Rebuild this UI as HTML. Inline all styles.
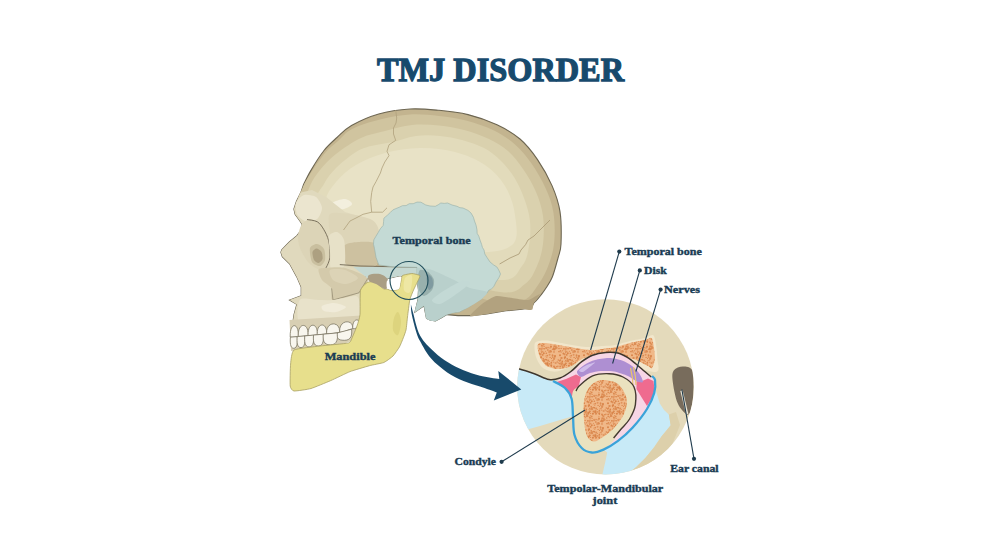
<!DOCTYPE html>
<html><head><meta charset="utf-8">
<style>
html,body{margin:0;padding:0;background:#fff;width:1000px;height:552px;overflow:hidden}
svg{display:block}
text{font-family:"Liberation Serif",serif;font-weight:bold}
</style></head>
<body>
<svg width="1000" height="552" viewBox="0 0 1000 552">
<path d="M292.5,325.0 L294.0,314.5 L296.8,304.4 L289.6,300.0 L301.2,295.7 L301.2,287.0 L296.8,276.9 L289.6,263.8 L282.3,256.6 L280.9,252.2 L281.8,249.7 L289.4,242.0 L297.0,235.7 L300.8,230.6 L302.1,224.3 L299.6,220.5 L295.1,214.2 L293.9,209.0 L296.4,201.5 L300.8,192.6 L303.4,185.0 L303.4,185.0 C304.6,182.6 307.4,176.3 310.8,170.6 C314.2,164.8 319.6,156.0 324.0,150.5 C328.4,145.0 332.4,141.7 337.0,137.5 C341.6,133.3 344.6,129.4 351.5,125.5 C358.4,121.6 368.9,116.8 378.7,114.0 C388.4,111.2 399.9,109.6 410.0,109.0 C420.1,108.4 429.3,109.4 439.0,110.3 C448.7,111.2 458.3,112.2 468.0,114.6 C477.7,117.0 488.3,120.7 497.0,124.8 C505.7,128.9 513.2,133.2 520.0,139.0 C526.8,144.8 532.2,151.8 537.5,159.6 C542.8,167.4 548.2,176.9 552.0,185.6 C555.8,194.3 558.5,202.0 560.0,211.7 C561.5,221.4 561.3,236.3 561.0,244.0 C560.7,251.7 559.5,252.5 558.0,258.0 C556.5,263.5 554.3,272.0 552.3,277.0 C550.3,282.0 547.9,285.0 546.0,288.0 C544.1,291.0 542.7,292.8 541.0,295.0 C539.3,297.2 537.2,299.7 536.0,301.0 C534.8,302.3 534.2,302.7 533.8,303.0 L531.6,307.6 L522.0,309.2 L506.0,310.8 L486.8,314.0 L470.8,315.6 L458.0,315.6 L446.8,314.6 L441.0,318.0 L435.4,321.0 L430.0,320.0 L426.5,318.4 L424.0,305.7 L415.0,312.0 L418.0,300.0 L418.5,290.0 L417.0,278.0 L400.0,276.0 L386.0,279.0 L375.0,274.0 L365.0,276.0 L360.0,290.0 L360.0,318.5Z" fill="#c3b48f" stroke="#6d6652" stroke-width="1.1"/>
<path d="M299.0,205.0 C296.1,198.0 300.4,193.5 302.5,188.0 C304.6,182.5 307.7,177.9 311.5,172.0 C315.3,166.1 321.1,157.7 325.5,152.5 C329.9,147.3 333.6,144.9 338.0,141.0 C342.4,137.1 345.0,132.6 352.0,129.0 C359.0,125.4 370.3,121.9 380.0,119.5 C389.7,117.1 400.2,115.1 410.0,114.5 C419.8,113.9 429.7,115.0 439.0,116.0 C448.3,117.0 456.8,118.1 466.0,120.5 C475.2,122.9 485.8,126.5 494.0,130.5 C502.2,134.5 508.8,139.0 515.0,144.5 C521.2,150.0 526.4,156.2 531.5,163.5 C536.6,170.8 541.8,179.8 545.5,188.0 C549.2,196.2 552.1,203.7 553.5,213.0 C554.9,222.3 555.1,234.7 554.0,244.0 C552.9,253.3 550.0,261.7 547.0,269.0 C544.0,276.3 539.8,282.8 536.0,288.0 C532.2,293.2 530.0,297.5 524.0,300.0 C518.0,302.5 507.3,303.3 500.0,303.0 C492.7,302.7 493.3,301.8 480.0,298.0 C466.7,294.2 441.7,288.0 420.0,280.0 C398.3,272.0 366.7,258.3 350.0,250.0 C333.3,241.7 328.5,237.5 320.0,230.0 C311.5,222.5 301.9,212.0 299.0,205.0Z" fill="#d0c49f"/>
<path d="M306.0,205.0 C303.5,198.5 307.7,191.8 310.0,186.0 C312.3,180.2 315.7,175.3 320.0,170.0 C324.3,164.7 329.2,159.3 336.0,154.0 C342.8,148.7 352.8,141.8 361.0,138.0 C369.2,134.2 376.5,133.2 385.0,131.0 C393.5,128.8 403.0,125.9 412.0,125.0 C421.0,124.1 430.3,124.7 439.0,125.5 C447.7,126.3 455.7,127.8 464.0,130.0 C472.3,132.2 481.7,135.5 489.0,139.0 C496.3,142.5 502.3,146.0 508.0,151.0 C513.7,156.0 518.3,162.2 523.0,169.0 C527.7,175.8 532.7,184.2 536.0,192.0 C539.3,199.8 541.8,207.3 543.0,216.0 C544.2,224.7 544.0,235.7 543.0,244.0 C542.0,252.3 540.0,259.3 537.0,266.0 C534.0,272.7 531.2,279.7 525.0,284.0 C518.8,288.3 517.5,294.3 500.0,292.0 C482.5,289.7 445.0,278.7 420.0,270.0 C395.0,261.3 365.8,247.5 350.0,240.0 C334.2,232.5 332.3,230.8 325.0,225.0 C317.7,219.2 308.5,211.5 306.0,205.0Z" fill="#dad1ae"/>
<path d="M318.0,203.0 C313.7,195.0 321.0,189.8 324.0,184.0 C327.0,178.2 330.7,173.3 336.0,168.0 C341.3,162.7 350.2,155.7 356.0,152.0 C361.8,148.3 364.8,147.7 371.0,146.0 C377.2,144.3 385.5,143.7 393.0,142.0 C400.5,140.3 408.2,137.0 416.0,136.0 C423.8,135.0 432.3,135.3 440.0,136.0 C447.7,136.7 454.7,138.0 462.0,140.0 C469.3,142.0 477.7,144.7 484.0,148.0 C490.3,151.3 495.0,155.2 500.0,160.0 C505.0,164.8 510.0,170.7 514.0,177.0 C518.0,183.3 521.3,190.7 524.0,198.0 C526.7,205.3 529.2,213.0 530.0,221.0 C530.8,229.0 530.3,238.5 529.0,246.0 C527.7,253.5 526.8,260.3 522.0,266.0 C517.2,271.7 517.0,280.7 500.0,280.0 C483.0,279.3 445.0,270.0 420.0,262.0 C395.0,254.0 367.0,241.8 350.0,232.0 C333.0,222.2 322.3,211.0 318.0,203.0Z" fill="#e2dbbb"/>
<path d="M326.0,202.0 C325.3,194.7 331.0,188.2 336.0,182.0 C341.0,175.8 347.8,169.8 356.0,165.0 C364.2,160.2 374.3,155.8 385.0,153.0 C395.7,150.2 408.3,148.2 420.0,148.0 C431.7,147.8 444.2,149.2 455.0,152.0 C465.8,154.8 476.7,159.3 485.0,165.0 C493.3,170.7 500.0,177.7 505.0,186.0 C510.0,194.3 513.8,205.2 515.0,215.0 C516.2,224.8 519.5,238.8 512.0,245.0 C504.5,251.2 488.7,253.2 470.0,252.0 C451.3,250.8 421.7,242.3 400.0,238.0 C378.3,233.7 352.3,232.0 340.0,226.0 C327.7,220.0 326.7,209.3 326.0,202.0Z" fill="#e8e2c6"/>
<path d="M332.0,203.0 C333.8,201.3 341.7,198.8 345.0,199.0 C348.3,199.2 352.2,202.3 352.0,204.0 C351.8,205.7 347.0,208.2 344.0,209.0 C341.0,209.8 336.0,210.0 334.0,209.0 C332.0,208.0 330.2,204.7 332.0,203.0Z" fill="#f3efde"/>
<path d="M300.8,192.6 L312.0,190.0 L326.0,197.0 L345.0,212.0 L372.0,220.0 L378.0,232.0 L376.0,264.0 L365.0,276.0 L360.0,290.0 L360.0,318.5 L292.5,325.0 L294.0,314.5 L296.8,304.4 L289.6,300.0 L301.2,295.7 L301.2,287.0 L296.8,276.9 L289.6,263.8 L282.3,256.6 L280.9,252.2 L281.8,249.7 L289.4,242.0 L297.0,235.7 L300.8,230.6 L302.1,224.3 L299.6,220.5 L295.1,214.2 L293.9,209.0 L296.4,201.5Z" fill="#e0d9bd"/>
<path d="M330.0,214.0 C332.7,211.6 344.4,213.2 350.0,214.0 C355.6,214.8 368.1,217.6 372.0,220.0 C375.9,222.4 378.3,226.1 379.0,232.0 C379.7,237.9 379.5,259.3 377.0,264.0 C374.5,268.7 364.3,266.7 360.0,267.0 C355.7,267.3 348.2,268.3 345.0,266.0 C341.8,263.7 338.0,254.5 336.0,250.0 C334.0,245.5 330.8,236.8 330.0,232.0 C329.2,227.2 327.3,216.4 330.0,214.0Z" fill="#ddd5b8"/>
<path d="M344.0,246.0 C345.6,243.1 353.7,242.3 358.0,242.0 C362.3,241.7 373.5,241.1 376.0,244.0 C378.5,246.9 379.1,260.9 377.0,264.0 C374.9,267.1 364.1,267.0 360.0,267.0 C355.9,267.0 348.1,266.8 346.0,264.0 C343.9,261.2 342.4,248.9 344.0,246.0Z" fill="#cdc1a0"/>
<path d="M296.0,203.0 C296.9,200.5 301.3,195.8 304.0,195.0 C306.7,194.2 313.6,195.3 316.0,197.0 C318.4,198.7 321.9,205.1 322.0,208.0 C322.1,210.9 319.3,217.3 317.0,219.0 C314.7,220.7 307.7,221.7 305.0,221.0 C302.3,220.3 298.2,216.4 297.0,214.0 C295.8,211.6 295.1,205.5 296.0,203.0Z" fill="#ebe5cf"/>
<path d="M302.0,224.0 C303.6,221.8 307.7,219.5 309.7,219.2 C311.7,218.9 315.4,220.4 317.3,221.8 C319.2,223.2 322.2,226.9 323.7,229.4 C325.2,231.9 327.9,237.4 328.7,240.8 C329.5,244.2 330.4,251.5 330.0,255.0 C329.6,258.5 327.6,265.1 326.0,267.0 C324.4,268.9 320.4,269.7 318.0,269.0 C315.6,268.3 310.4,264.8 308.0,262.0 C305.6,259.2 301.3,251.5 300.0,248.0 C298.7,244.5 297.7,239.2 298.0,236.0 C298.3,232.8 300.4,226.2 302.0,224.0Z" fill="#dcd4b7"/>
<path d="M310.0,248.0 C310.7,245.6 315.1,243.9 317.0,244.0 C318.9,244.1 322.9,246.9 324.0,249.0 C325.1,251.1 325.5,257.7 325.0,260.0 C324.5,262.3 321.7,265.7 320.0,266.0 C318.3,266.3 313.3,264.4 312.0,262.0 C310.7,259.6 309.3,250.4 310.0,248.0Z" fill="#c9bf9f"/>
<path d="M312.5,252.0 C312.8,250.5 315.3,248.5 316.5,248.5 C317.7,248.5 320.7,250.6 321.5,252.0 C322.3,253.4 322.9,257.5 322.5,259.0 C322.1,260.5 319.6,262.9 318.5,263.0 C317.4,263.1 314.8,261.5 314.0,260.0 C313.2,258.5 312.2,253.5 312.5,252.0Z" fill="#ada081"/>
<path d="M307.0,219.5 C308.7,219.9 314.5,220.2 317.3,221.8 C320.1,223.5 321.8,226.2 323.7,229.4 C325.6,232.6 327.6,236.5 328.7,240.8 C329.8,245.1 330.0,251.5 330.0,255.0 C330.0,258.5 329.4,259.8 328.7,262.0 C328.0,264.2 326.3,267.2 325.8,268.2" fill="none" stroke="#6f6753" stroke-width="0.9"/>
<path d="M329.0,236.0 C329.9,233.3 335.0,231.5 337.0,232.0 C339.0,232.5 342.9,236.0 344.0,240.0 C345.1,244.0 345.5,257.7 345.0,262.0 C344.5,266.3 341.9,270.9 340.0,272.0 C338.1,273.1 332.3,272.7 331.0,270.0 C329.7,267.3 330.3,256.5 330.0,252.0 C329.7,247.5 328.1,238.7 329.0,236.0Z" fill="#e7e1c8"/>
<path d="M318.5,269.6 C319.0,268.0 322.5,268.2 326.0,268.0 C329.5,267.8 339.4,266.6 345.0,268.0 C350.6,269.4 365.9,275.0 367.8,278.3 C369.7,281.6 363.6,289.9 359.0,292.8 C354.4,295.7 336.7,300.6 333.0,300.0 C329.3,299.4 333.1,291.1 331.6,288.4 C330.1,285.7 323.7,282.5 322.0,280.0 C320.3,277.5 318.0,271.2 318.5,269.6Z" fill="#d4caab"/>
<path d="M330.0,270.0 C331.6,268.7 341.3,268.9 345.0,270.0 C348.7,271.1 357.9,276.1 358.0,278.0 C358.1,279.9 349.3,283.7 346.0,284.0 C342.7,284.3 335.1,281.9 333.0,280.0 C330.9,278.1 328.4,271.3 330.0,270.0Z" fill="#dcd3b6"/>
<path d="M353.0,266.7 L417.0,267.4 L417.0,278.0 L400.0,276.0 L386.0,279.0 L375.0,274.0 L367.8,278.3Z" fill="#c5d8d2"/>
<path d="M339.8,264.6 L360,266 L392,266.7 L417,267.4" fill="none" stroke="#6f6753" stroke-width="0.9"/>
<path d="M331.6,288.4 L333,300 L359,292.8 L367.8,278.3" fill="none" stroke="#8d846b" stroke-width="0.7"/>
<path d="M299.7,300.0 C302.1,296.9 313.6,300.0 318.0,300.0 C322.4,300.0 327.9,300.5 333.0,300.0 C338.1,299.5 352.4,295.2 356.0,296.0 C359.6,296.8 359.7,303.1 360.0,306.0 C360.3,308.9 362.0,316.0 358.0,318.0 C354.0,320.0 337.7,320.3 330.0,321.0 C322.3,321.7 304.0,325.8 300.0,323.0 C296.0,320.2 297.3,303.1 299.7,300.0Z" fill="#e8e2ca"/>
<path d="M322.0,306.0 C323.3,304.9 330.8,302.9 334.0,303.0 C337.2,303.1 345.7,305.8 346.0,307.0 C346.3,308.2 338.9,311.5 336.0,312.0 C333.1,312.5 325.9,311.8 324.0,311.0 C322.1,310.2 320.7,307.1 322.0,306.0Z" fill="#f0ebd9"/>
<path d="M420.9,202.2 L425.8,205.0 L430.0,206.0 L435.3,206.3 L438.2,204.8 L440.8,203.0 L444.2,203.4 L447.6,203.0 L452.0,205.0 L457.0,206.3 L459.9,207.7 L463.0,208.0 L468.0,210.4 L471.0,213.0 L473.4,217.2 L474.5,221.0 L476.1,225.3 L477.0,230.0 L477.1,233.3 L478.8,236.2 L480.0,240.0 L481.6,244.4 L482.4,247.4 L484.0,250.0 L484.8,254.0 L487.0,257.5 L490.0,262.0 L493.7,265.0 L496.9,267.0 L498.8,270.2 L500.5,274.0 L498.8,277.8 L496.0,282.0 L493.7,286.7 L491.5,288.8 L488.7,290.3 L487.0,293.0 L483.8,296.0 L481.0,299.4 L476.0,302.0 L473.1,303.3 L471.0,305.7 L465.0,309.0 L459.5,312.0 L452.0,313.0 L446.8,314.6 L441.0,318.0 L435.4,321.0 L430.0,320.0 L426.5,318.4 L424.0,305.7 L415.0,312.0 L418.0,300.0 L418.5,290.0 L417.0,278.0 L417.0,267.4 L392.0,266.7 L378.8,265.0 L376.0,257.3 L374.5,248.6 L373.5,244.3 L373.8,239.9 L375.9,236.3 L378.1,232.7 L380.3,228.8 L383.2,225.4 L383.6,221.8 L383.9,218.2 L387.2,215.4 L390.4,212.4 L392.9,209.9 L395.9,208.6 L399.1,207.3 L402.4,205.7 L406.1,205.6 L409.3,203.7 L413.2,203.7 L417.0,202.1Z" fill="#c4dad5" stroke="#9db4ae" stroke-width="0.7"/>
<path d="M418.0,268.0 C419.5,267.2 428.8,269.0 432.0,270.0 C435.2,271.0 446.2,276.2 450.0,278.0 C453.8,279.8 466.3,286.6 470.0,288.0 C473.7,289.4 485.9,290.9 487.0,292.0 C488.1,293.1 483.2,297.7 481.0,299.4 C478.8,301.1 468.4,307.5 465.0,309.0 C461.6,310.5 449.8,313.4 446.8,314.6 C443.8,315.8 437.4,320.6 435.4,321.0 C433.4,321.4 427.6,319.9 426.5,318.4 C425.4,316.9 425.1,306.3 424.0,305.7 C422.9,305.1 415.6,312.6 415.0,312.0 C414.4,311.4 417.6,302.2 418.0,300.0 C418.4,297.8 418.6,292.2 418.5,290.0 C418.4,287.8 417.1,280.2 417.0,278.0 C416.9,275.8 416.5,268.8 418.0,268.0Z" fill="#b9d0cc"/>
<path d="M432.0,300.0 C432.7,298.1 441.0,292.5 445.0,290.0 C449.0,287.5 458.7,281.9 462.0,281.0 C465.3,280.1 470.9,281.1 470.0,283.0 C469.1,284.9 459.0,292.2 455.0,295.0 C451.0,297.8 443.1,303.3 440.0,304.0 C436.9,304.7 431.3,301.9 432.0,300.0Z" fill="#c3d9d5"/>
<path d="M420.0,270.0 C421.3,269.2 426.1,270.7 428.0,272.0 C429.9,273.3 433.5,277.6 434.0,280.0 C434.5,282.4 433.3,287.9 432.0,290.0 C430.7,292.1 425.7,296.0 424.0,296.0 C422.3,296.0 419.8,292.4 419.0,290.0 C418.2,287.6 417.9,280.7 418.0,278.0 C418.1,275.3 418.7,270.8 420.0,270.0Z" fill="#98b0ad"/>
<path d="M427.0,274.0 C427.7,273.3 431.2,276.4 432.0,278.0 C432.8,279.6 433.4,284.4 433.0,286.0 C432.6,287.6 429.8,290.4 429.0,290.0 C428.2,289.6 427.3,285.1 427.0,283.0 C426.7,280.9 426.3,274.7 427.0,274.0Z" fill="#7f9aa0"/>
<path d="M470.0,316.0 C469.5,315.0 479.4,306.0 482.0,304.0 C484.6,302.0 493.0,296.6 496.0,296.0 C499.0,295.4 508.8,297.6 512.0,298.0 C515.2,298.4 525.2,300.4 528.0,300.0 C530.8,299.6 539.4,293.7 540.0,294.0 C540.6,294.3 534.6,301.4 533.8,303.0 C533.0,304.6 533.2,309.2 532.0,309.8 C530.8,310.4 524.6,309.1 522.0,309.2 C519.4,309.3 509.5,310.3 506.0,310.8 C502.5,311.3 490.6,313.5 487.0,314.0 C483.4,314.5 470.5,317.0 470.0,316.0Z" fill="#b2a27f"/>
<path d="M395.7,110 L396.7,118 L396,123 L393.5,128 L393.5,134 L395.7,140.4 L389,144.8 L387,151.3 L389,155.6 L384.8,162 L382,168 L380.4,173 L376,181.7 L373,187 L371.7,192.6 L370.7,201.3 L371.7,212.2 L363,214.3 L356,218 L350,221 L343.5,230 M371.7,212.2 L382.6,212.2 L387,207.8" fill="none" stroke="#b0a17c" stroke-width="0.8"/>
<path d="M550,220 L540,230 L534,236 L528,240 L525.6,244.6 L521,250 L519,254 L510,258 L499.6,264" fill="none" stroke="#a89874" stroke-width="0.8"/>
<path d="M289.5,320 L361,315.5 L362,331 L353,340 L337,347 L291,351 Z" fill="#d8cfb3"/>
<g fill="#f8f6ee" stroke="#77715f" stroke-width="0.75"><path d="M290.2,336.0 C289.9,322.3 298.6,322.3 298.3,335.3 L298.3,336.3 C295.9,336.8 292.6,337.5 290.2,337.0 Z"/><path d="M298.3,335.3 C298.0,322.3 308.4,322.3 308.1,334.4 L308.1,335.4 C305.2,335.9 301.2,336.8 298.3,336.3 Z"/><path d="M308.1,334.4 C307.8,322.3 317.6,322.3 317.3,333.5 L317.3,334.5 C314.5,335.0 310.9,335.9 308.1,335.4 Z"/><path d="M317.3,333.5 C317.0,322.3 326.9,322.3 326.6,332.7 L326.6,333.7 C323.8,334.2 320.1,335.0 317.3,334.5 Z"/><path d="M326.6,332.7 C326.3,321.2 339.9,321.2 339.6,331.3 L339.6,332.3 C335.7,332.8 330.5,334.2 326.6,333.7 Z"/><path d="M339.6,331.3 C339.3,319.3 353.0,319.3 352.7,327.7 L352.7,328.7 C348.8,329.2 343.5,332.8 339.6,332.3 Z"/><path d="M352.7,327.7 C352.4,317.7 360.6,317.7 360.3,325.6 L360.3,326.6 C358.0,327.1 355.0,329.2 352.7,328.7 Z"/><path d="M290.4,337.2 L297.2,336.6 C297.6,341.6 297.5,348.3 293.8,348.3 C290.1,348.3 290.0,342.2 290.4,337.2 Z"/><path d="M297.2,336.6 L304.8,335.9 C305.2,340.9 305.1,347.6 301.0,347.6 C296.9,347.6 296.8,341.6 297.2,336.6 Z"/><path d="M304.8,335.9 L313.5,335.1 C313.9,340.1 313.8,346.9 309.1,346.9 C304.5,346.9 304.4,340.9 304.8,335.9 Z"/><path d="M313.5,335.1 L323.3,334.2 C323.7,339.2 323.6,346.0 318.4,346.0 C313.2,346.0 313.1,340.1 313.5,335.1 Z"/><path d="M323.3,334.2 L337.4,332.9 C337.8,337.9 337.7,344.9 330.4,344.9 C323.0,344.9 322.9,339.2 323.3,334.2 Z"/><path d="M337.4,332.9 L351.6,329.2 C352.0,334.2 351.9,340.3 344.5,340.3 C337.1,340.3 337.0,337.9 337.4,332.9 Z"/></g>
<path d="M290.2,386.0 C290.5,388.2 292.3,390.8 294.0,391.0 C295.7,391.2 308.0,389.4 311.0,388.5 C314.0,387.6 327.2,382.1 330.5,380.7 C333.8,379.3 346.8,372.9 350.0,371.6 C353.2,370.4 366.7,366.5 369.5,365.7 C372.3,364.9 381.8,363.3 383.8,362.5 C385.8,361.7 391.7,357.3 393.0,356.0 C394.3,354.7 398.5,348.5 399.4,347.0 C400.3,345.5 402.8,339.2 403.3,337.8 C403.9,336.4 405.6,331.7 406.0,330.0 C406.4,328.3 407.2,319.5 407.5,317.0 C407.8,314.5 409.3,302.1 409.8,299.8 C410.3,297.5 413.2,290.7 414.0,289.0 C414.8,287.3 418.3,280.1 418.8,279.0 C419.3,277.9 420.3,276.0 419.7,275.5 C419.1,275.0 413.4,273.5 412.0,273.5 C410.6,273.5 403.4,274.9 402.5,275.5 C401.6,276.1 401.3,279.9 401.0,281.0 C400.7,282.1 399.8,288.2 399.0,289.0 C398.2,289.8 393.0,290.5 392.0,290.5 C391.0,290.5 387.2,289.1 386.5,289.0 C385.8,288.9 384.6,289.4 383.6,288.8 C382.6,288.2 376.2,282.6 375.0,282.0 C373.8,281.4 370.2,281.7 369.5,281.8 C368.8,281.9 366.8,282.6 366.0,283.3 C365.2,284.0 360.9,288.0 360.4,290.6 C359.9,293.2 360.3,311.8 360.0,314.7 C359.7,317.6 357.7,324.1 357.0,326.0 C356.3,327.9 352.7,336.6 352.0,338.0 C351.3,339.4 351.0,342.3 348.3,343.0 C345.6,343.7 324.5,345.4 320.0,346.0 C315.5,346.6 296.4,348.5 294.0,350.0 C291.6,351.5 290.9,361.0 290.6,364.0 C290.3,367.0 289.9,383.8 290.2,386.0Z" fill="#e7df8c" stroke="#aaa163" stroke-width="0.8"/>
<path d="M394.0,318.0 C394.8,315.0 396.8,311.3 398.0,312.0 C399.2,312.7 401.0,318.2 401.0,322.0 C401.0,325.8 399.3,333.7 398.0,335.0 C396.7,336.3 393.7,332.8 393.0,330.0 C392.3,327.2 393.2,321.0 394.0,318.0Z" fill="#ddd47e"/>
<path d="M405.0,278.0 C406.3,275.7 411.2,273.7 412.0,276.0 C412.8,278.3 411.3,289.7 410.0,292.0 C408.7,294.3 404.8,292.3 404.0,290.0 C403.2,287.7 403.7,280.3 405.0,278.0Z" fill="#eee7a4"/>
<path d="M369.0,275.0 C370.8,273.8 376.8,273.2 380.0,274.0 C383.2,274.8 387.0,277.5 388.0,280.0 C389.0,282.5 388.0,288.3 386.0,289.0 C384.0,289.7 378.8,285.3 376.0,284.0 C373.2,282.7 370.2,282.5 369.0,281.0 C367.8,279.5 367.2,276.2 369.0,275.0Z" fill="#aa9e84"/>
<path d="M387.0,281.0 C387.6,280.0 391.6,278.4 393.0,278.0 C394.4,277.6 400.2,276.1 401.0,276.5 C401.8,276.9 400.7,280.8 400.5,282.0 C400.3,283.2 399.9,288.2 399.0,289.0 C398.1,289.8 393.2,290.1 392.0,290.0 C390.8,289.9 387.5,288.9 387.0,288.0 C386.5,287.1 386.4,282.0 387.0,281.0Z" fill="#ffffff"/>
<circle cx="409" cy="280.5" r="19" fill="none" stroke="#224f5c" stroke-width="1.15"/>
<defs><pattern id="sp" width="24" height="24" patternUnits="userSpaceOnUse"><rect width="24" height="24" fill="#f0b888"/><circle cx="7.8" cy="3.6" r="0.84" fill="#dc8a50"/><circle cx="19.7" cy="2.3" r="0.81" fill="#e0935c"/><circle cx="5.2" cy="2.1" r="0.74" fill="#dc8a50"/><circle cx="2.2" cy="10.2" r="0.92" fill="#dc8a50"/><circle cx="-1.3" cy="15.1" r="0.81" fill="#dc8a50"/><circle cx="22.7" cy="15.1" r="0.81" fill="#dc8a50"/><circle cx="13.9" cy="9.5" r="0.99" fill="#dc8a50"/><circle cx="13.4" cy="3.2" r="0.74" fill="#e0935c"/><circle cx="2.8" cy="7.4" r="0.92" fill="#dc8a50"/><circle cx="2.5" cy="13.7" r="0.63" fill="#dc8a50"/><circle cx="13.1" cy="1.5" r="0.58" fill="#dc8a50"/><circle cx="13.1" cy="25.5" r="0.58" fill="#dc8a50"/><circle cx="11.9" cy="12.8" r="0.90" fill="#d98449"/><circle cx="14.1" cy="10.9" r="0.68" fill="#dc8a50"/><circle cx="16.8" cy="5.9" r="0.81" fill="#e0935c"/><circle cx="11.9" cy="8.2" r="0.75" fill="#e0935c"/><circle cx="-0.5" cy="2.8" r="0.74" fill="#d98449"/><circle cx="23.5" cy="2.8" r="0.74" fill="#d98449"/><circle cx="3.6" cy="11.7" r="0.57" fill="#e0935c"/><circle cx="1.9" cy="13.4" r="0.91" fill="#d98449"/><circle cx="25.9" cy="13.4" r="0.91" fill="#d98449"/><circle cx="8.2" cy="8.4" r="0.77" fill="#d98449"/><circle cx="1.7" cy="2.2" r="0.67" fill="#e0935c"/><circle cx="25.7" cy="2.2" r="0.67" fill="#e0935c"/><circle cx="15.9" cy="1.5" r="0.87" fill="#e0935c"/><circle cx="15.9" cy="25.5" r="0.87" fill="#e0935c"/><circle cx="13.9" cy="16.3" r="0.75" fill="#e0935c"/><circle cx="9.3" cy="16.0" r="0.56" fill="#d98449"/><circle cx="8.5" cy="14.7" r="0.77" fill="#dc8a50"/><circle cx="18.4" cy="3.1" r="0.66" fill="#d98449"/><circle cx="-2.0" cy="11.9" r="0.62" fill="#d98449"/><circle cx="22.0" cy="11.9" r="0.62" fill="#d98449"/><circle cx="13.2" cy="21.2" r="0.92" fill="#e0935c"/><circle cx="6.7" cy="10.0" r="0.71" fill="#d98449"/><circle cx="-1.0" cy="3.6" r="0.63" fill="#dc8a50"/><circle cx="23.0" cy="3.6" r="0.63" fill="#dc8a50"/><circle cx="15.8" cy="0.3" r="0.92" fill="#dc8a50"/><circle cx="15.8" cy="24.3" r="0.92" fill="#dc8a50"/><circle cx="6.3" cy="0.1" r="0.74" fill="#d98449"/><circle cx="6.3" cy="24.1" r="0.74" fill="#d98449"/><circle cx="14.6" cy="7.6" r="0.61" fill="#e0935c"/><circle cx="-1.2" cy="15.7" r="0.88" fill="#d98449"/><circle cx="22.8" cy="15.7" r="0.88" fill="#d98449"/><circle cx="21.6" cy="18.7" r="0.94" fill="#e0935c"/><circle cx="9.4" cy="9.6" r="0.60" fill="#e0935c"/><circle cx="9.6" cy="4.6" r="0.99" fill="#d98449"/><circle cx="3.9" cy="8.2" r="0.57" fill="#dc8a50"/><circle cx="13.6" cy="12.9" r="0.98" fill="#e0935c"/><circle cx="0.6" cy="21.0" r="0.83" fill="#dc8a50"/><circle cx="24.6" cy="21.0" r="0.83" fill="#dc8a50"/><circle cx="15.2" cy="-1.1" r="0.82" fill="#d98449"/><circle cx="15.2" cy="22.9" r="0.82" fill="#d98449"/><circle cx="2.9" cy="20.4" r="1.00" fill="#d98449"/><circle cx="11.5" cy="7.5" r="0.61" fill="#e0935c"/><circle cx="8.2" cy="6.4" r="0.92" fill="#dc8a50"/><circle cx="12.4" cy="4.9" r="0.98" fill="#d98449"/><circle cx="3.5" cy="13.0" r="0.56" fill="#e0935c"/><circle cx="7.2" cy="15.4" r="0.59" fill="#d98449"/><circle cx="12.4" cy="21.8" r="0.71" fill="#dc8a50"/><circle cx="12.8" cy="18.7" r="0.70" fill="#dc8a50"/><circle cx="14.7" cy="18.9" r="0.89" fill="#dc8a50"/><circle cx="19.3" cy="19.6" r="0.88" fill="#dc8a50"/><circle cx="4.8" cy="11.8" r="0.88" fill="#dc8a50"/><circle cx="19.0" cy="11.3" r="0.64" fill="#e0935c"/><circle cx="-1.0" cy="10.7" r="0.97" fill="#d98449"/><circle cx="23.0" cy="10.7" r="0.97" fill="#d98449"/><circle cx="-1.1" cy="8.8" r="0.65" fill="#dc8a50"/><circle cx="22.9" cy="8.8" r="0.65" fill="#dc8a50"/><circle cx="11.3" cy="8.1" r="0.77" fill="#e0935c"/><circle cx="20.2" cy="11.5" r="0.84" fill="#e0935c"/><circle cx="2.0" cy="15.9" r="0.96" fill="#e0935c"/><circle cx="18.0" cy="11.5" r="0.63" fill="#e0935c"/><circle cx="8.0" cy="19.2" r="0.99" fill="#d98449"/><circle cx="11.1" cy="17.8" r="0.59" fill="#dc8a50"/><circle cx="4.1" cy="3.0" r="0.62" fill="#d98449"/><circle cx="19.4" cy="3.5" r="0.92" fill="#d98449"/><circle cx="15.8" cy="8.4" r="0.80" fill="#dc8a50"/><circle cx="0.5" cy="19.2" r="0.88" fill="#dc8a50"/><circle cx="24.5" cy="19.2" r="0.88" fill="#dc8a50"/><circle cx="12.6" cy="-1.6" r="0.75" fill="#dc8a50"/><circle cx="12.6" cy="22.4" r="0.75" fill="#dc8a50"/><circle cx="19.8" cy="5.1" r="0.66" fill="#d98449"/><circle cx="12.0" cy="18.3" r="0.70" fill="#e0935c"/><circle cx="10.1" cy="3.1" r="0.96" fill="#d98449"/><circle cx="21.5" cy="15.9" r="0.92" fill="#e0935c"/><circle cx="10.1" cy="-2.0" r="0.78" fill="#e0935c"/><circle cx="10.1" cy="22.0" r="0.78" fill="#e0935c"/><circle cx="3.6" cy="12.3" r="0.94" fill="#dc8a50"/><circle cx="14.6" cy="18.6" r="0.62" fill="#dc8a50"/><circle cx="11.4" cy="17.4" r="0.80" fill="#d98449"/><circle cx="16.4" cy="12.7" r="0.77" fill="#dc8a50"/><circle cx="21.2" cy="1.4" r="0.64" fill="#dc8a50"/><circle cx="21.2" cy="25.4" r="0.64" fill="#dc8a50"/><circle cx="18.5" cy="12.2" r="0.80" fill="#dc8a50"/><circle cx="10.6" cy="14.7" r="0.78" fill="#e0935c"/><circle cx="4.8" cy="6.7" r="0.78" fill="#d98449"/><circle cx="12.2" cy="5.9" r="0.79" fill="#d98449"/><circle cx="-1.9" cy="21.4" r="0.64" fill="#d98449"/><circle cx="22.1" cy="21.4" r="0.64" fill="#d98449"/><circle cx="3.3" cy="2.9" r="0.75" fill="#dc8a50"/><circle cx="16.1" cy="10.3" r="0.65" fill="#d98449"/><circle cx="18.8" cy="21.5" r="0.62" fill="#e0935c"/><circle cx="15.4" cy="8.8" r="0.66" fill="#dc8a50"/><circle cx="-0.8" cy="5.3" r="0.98" fill="#d98449"/><circle cx="23.2" cy="5.3" r="0.98" fill="#d98449"/><circle cx="21.2" cy="3.9" r="0.85" fill="#dc8a50"/><circle cx="3.9" cy="10.4" r="0.78" fill="#d98449"/><circle cx="10.1" cy="8.6" r="0.59" fill="#d98449"/><circle cx="0.5" cy="13.3" r="0.75" fill="#dc8a50"/><circle cx="24.5" cy="13.3" r="0.75" fill="#dc8a50"/><circle cx="9.2" cy="12.4" r="0.68" fill="#dc8a50"/><circle cx="2.7" cy="-2.0" r="0.65" fill="#dc8a50"/><circle cx="2.7" cy="22.0" r="0.65" fill="#dc8a50"/><circle cx="2.0" cy="6.5" r="0.96" fill="#dc8a50"/><circle cx="6.5" cy="3.1" r="0.74" fill="#e0935c"/><circle cx="19.7" cy="6.2" r="0.62" fill="#e0935c"/><circle cx="13.7" cy="16.8" r="0.59" fill="#dc8a50"/><circle cx="19.2" cy="4.4" r="0.95" fill="#d98449"/><circle cx="-1.5" cy="15.2" r="0.91" fill="#dc8a50"/><circle cx="22.5" cy="15.2" r="0.91" fill="#dc8a50"/><circle cx="14.6" cy="5.3" r="0.67" fill="#dc8a50"/><circle cx="10.9" cy="8.1" r="0.80" fill="#d98449"/><circle cx="14.9" cy="1.0" r="0.87" fill="#dc8a50"/><circle cx="14.9" cy="25.0" r="0.87" fill="#dc8a50"/><circle cx="-0.7" cy="6.3" r="0.63" fill="#d98449"/><circle cx="23.3" cy="6.3" r="0.63" fill="#d98449"/><circle cx="15.1" cy="12.7" r="0.64" fill="#d98449"/><circle cx="12.0" cy="4.3" r="0.71" fill="#dc8a50"/><circle cx="-0.1" cy="0.9" r="0.56" fill="#e0935c"/><circle cx="-0.1" cy="24.9" r="0.56" fill="#e0935c"/><circle cx="23.9" cy="0.9" r="0.56" fill="#e0935c"/><circle cx="23.9" cy="24.9" r="0.56" fill="#e0935c"/><circle cx="13.2" cy="4.5" r="0.76" fill="#d98449"/><circle cx="2.6" cy="19.7" r="0.74" fill="#d98449"/><circle cx="13.1" cy="21.3" r="0.99" fill="#d98449"/><circle cx="16.5" cy="-0.4" r="0.70" fill="#e0935c"/><circle cx="16.5" cy="23.6" r="0.70" fill="#e0935c"/><circle cx="17.5" cy="3.4" r="1.00" fill="#dc8a50"/><circle cx="20.1" cy="0.3" r="0.83" fill="#d98449"/><circle cx="20.1" cy="24.3" r="0.83" fill="#d98449"/><circle cx="10.3" cy="1.3" r="0.85" fill="#d98449"/><circle cx="10.3" cy="25.3" r="0.85" fill="#d98449"/><circle cx="20.9" cy="16.1" r="0.68" fill="#dc8a50"/><circle cx="16.6" cy="1.1" r="0.63" fill="#d98449"/><circle cx="16.6" cy="25.1" r="0.63" fill="#d98449"/><circle cx="10.7" cy="6.3" r="0.98" fill="#e0935c"/><circle cx="7.8" cy="0.8" r="0.95" fill="#dc8a50"/><circle cx="7.8" cy="24.8" r="0.95" fill="#dc8a50"/><circle cx="8.6" cy="0.0" r="0.72" fill="#d98449"/><circle cx="8.6" cy="24.0" r="0.72" fill="#d98449"/><circle cx="6.7" cy="15.7" r="0.66" fill="#dc8a50"/><circle cx="2.2" cy="19.6" r="0.61" fill="#e0935c"/><circle cx="1.0" cy="0.5" r="0.69" fill="#dc8a50"/><circle cx="1.0" cy="24.5" r="0.69" fill="#dc8a50"/><circle cx="25.0" cy="0.5" r="0.69" fill="#dc8a50"/><circle cx="25.0" cy="24.5" r="0.69" fill="#dc8a50"/><circle cx="2.0" cy="-1.0" r="0.93" fill="#dc8a50"/><circle cx="2.0" cy="23.0" r="0.93" fill="#dc8a50"/><circle cx="15.8" cy="17.2" r="0.95" fill="#d98449"/><circle cx="18.3" cy="17.3" r="0.77" fill="#d98449"/><circle cx="17.4" cy="15.4" r="0.57" fill="#e0935c"/><circle cx="21.4" cy="15.1" r="0.88" fill="#e0935c"/><circle cx="3.3" cy="12.6" r="0.78" fill="#dc8a50"/><circle cx="19.8" cy="14.0" r="0.95" fill="#e0935c"/><circle cx="-1.1" cy="15.4" r="0.59" fill="#dc8a50"/><circle cx="22.9" cy="15.4" r="0.59" fill="#dc8a50"/><circle cx="3.2" cy="8.7" r="0.60" fill="#d98449"/><circle cx="13.4" cy="15.1" r="0.83" fill="#e0935c"/><circle cx="5.9" cy="6.3" r="0.76" fill="#dc8a50"/><circle cx="18.0" cy="12.1" r="0.79" fill="#e0935c"/><circle cx="12.6" cy="17.9" r="0.76" fill="#dc8a50"/><circle cx="20.3" cy="5.6" r="0.89" fill="#dc8a50"/><circle cx="17.8" cy="-0.6" r="0.77" fill="#d98449"/><circle cx="17.8" cy="23.4" r="0.77" fill="#d98449"/><circle cx="1.8" cy="21.9" r="0.68" fill="#dc8a50"/><circle cx="25.8" cy="21.9" r="0.68" fill="#dc8a50"/><circle cx="14.8" cy="15.4" r="0.58" fill="#dc8a50"/><circle cx="8.0" cy="15.6" r="0.86" fill="#e0935c"/><circle cx="13.6" cy="0.3" r="0.58" fill="#d98449"/><circle cx="13.6" cy="24.3" r="0.58" fill="#d98449"/><circle cx="-0.7" cy="2.4" r="0.65" fill="#d98449"/><circle cx="23.3" cy="2.4" r="0.65" fill="#d98449"/><circle cx="7.0" cy="12.4" r="0.76" fill="#d98449"/><circle cx="18.4" cy="-0.2" r="0.80" fill="#d98449"/><circle cx="18.4" cy="23.8" r="0.80" fill="#d98449"/><circle cx="-0.5" cy="-1.5" r="0.56" fill="#d98449"/><circle cx="-0.5" cy="22.5" r="0.56" fill="#d98449"/><circle cx="23.5" cy="-1.5" r="0.56" fill="#d98449"/><circle cx="23.5" cy="22.5" r="0.56" fill="#d98449"/><circle cx="1.8" cy="12.2" r="1.00" fill="#d98449"/><circle cx="25.8" cy="12.2" r="1.00" fill="#d98449"/><circle cx="9.3" cy="22.0" r="0.97" fill="#dc8a50"/><circle cx="14.0" cy="3.4" r="0.79" fill="#d98449"/><circle cx="3.2" cy="19.7" r="0.78" fill="#dc8a50"/><circle cx="16.9" cy="5.6" r="0.95" fill="#d98449"/><circle cx="9.5" cy="3.8" r="0.98" fill="#e0935c"/><circle cx="10.8" cy="7.2" r="0.61" fill="#d98449"/><circle cx="9.0" cy="2.9" r="0.70" fill="#d98449"/><circle cx="18.0" cy="20.1" r="0.60" fill="#dc8a50"/></pattern><clipPath id="cc"><ellipse cx="605.5" cy="386.8" rx="88.3" ry="87.6"/></clipPath></defs>
<ellipse cx="605.5" cy="386.8" rx="88.3" ry="87.6" fill="#e4dabb"/>
<g clip-path="url(#cc)">
<path d="M505.0,366.0 L518.7,368.7 L535.0,374.0 L549.0,379.5 L556.0,382.0 L565.0,388.0 L571.6,398.8 L573.0,416.2 L560.0,420.0 L540.0,426.0 L527.4,429.6 L505.0,436.0Z" fill="#c8eaf7"/>
<path d="M603.5,449.6 L618.0,440.9 L632.5,427.8 L647.0,409.0 L654.2,393.0 L655.0,380.0 L656.0,391.0 L659.8,403.5 L664.0,410.0 L668.8,414.4 L670.7,425.3 L666.0,431.0 L661.6,436.2 L654.3,447.0 L645.3,458.0 L636.2,467.0 L627.2,474.2 L601.8,477.0 L605.4,461.5 L607.2,452.5Z" fill="#c8eaf7"/>
<path d="M668.8,414.4 L676.0,412.0 L680.0,425.0 L672.0,445.0 L655.0,470.0 L627.2,474.2 L636.2,467.0 L645.3,458.0 L654.3,447.0 L661.6,436.2 L666.0,431.0 L670.7,425.3Z" fill="#ddd0ab"/>
<path d="M535.0,343.0 C536.3,340.8 542.1,340.4 546.0,340.5 C549.9,340.6 558.7,342.6 564.0,343.5 C569.3,344.4 580.8,346.7 586.0,347.0 C591.2,347.3 599.1,346.3 603.0,346.0 C606.9,345.7 611.4,345.7 615.0,345.0 C618.6,344.3 626.0,341.9 630.0,341.0 C634.0,340.1 641.8,338.7 645.0,338.0 C648.2,337.3 652.3,333.1 654.0,336.0 C655.7,338.9 657.5,355.2 657.5,360.0 C657.5,364.8 661.7,372.5 654.0,372.0 C646.3,371.5 609.9,357.3 600.0,356.0 C590.1,354.7 585.7,359.9 580.0,362.0 C574.3,364.1 561.9,370.7 557.0,371.5 C552.1,372.3 545.8,369.9 543.0,368.0 C540.2,366.1 537.1,360.3 536.0,357.0 C534.9,353.7 533.7,345.2 535.0,343.0Z" fill="#f1e6cb"/>
<path d="M537.9,344.4 C538.8,342.7 542.5,342.8 546.0,343.0 C549.5,343.2 558.7,345.0 564.0,345.9 C569.3,346.8 581.6,349.0 585.7,349.5 C589.8,350.0 592.4,350.1 595.0,350.0 C597.6,349.9 602.3,348.9 605.0,348.5 C607.7,348.1 611.7,347.9 615.0,347.2 C618.3,346.5 626.0,344.0 630.0,343.0 C634.0,342.0 642.1,340.6 645.0,340.0 C647.9,339.4 650.7,336.1 652.0,338.5 C653.3,340.9 655.0,354.1 655.0,358.0 C655.0,361.9 652.9,366.9 652.0,368.0 C651.1,369.1 650.1,367.1 648.0,366.0 C645.9,364.9 638.7,361.1 636.0,360.0 C633.3,358.9 629.9,358.3 627.4,357.4 C624.9,356.5 620.5,353.7 617.6,353.0 C614.7,352.3 609.0,352.2 605.7,352.5 C602.4,352.8 595.8,354.3 592.6,355.2 C589.4,356.1 584.4,357.8 582.0,359.0 C579.6,360.2 576.7,362.9 574.8,364.0 C572.9,365.1 570.0,366.9 567.6,367.6 C565.2,368.3 559.6,369.3 556.7,369.0 C553.8,368.7 548.2,367.1 545.9,365.4 C543.6,363.7 540.6,358.8 539.5,356.0 C538.4,353.2 537.0,346.1 537.9,344.4Z" fill="url(#sp)"/>
<path d="M556.0,382.0 L560.0,378.5 L570.9,371.5 L581.7,361.7 L592.6,355.2 L605.7,352.5 L617.6,353.0 L627.4,357.4 L636.0,364.0 L644.8,371.5 L651.3,377.0 L655.0,380.0 L654.2,393.0 L647.0,409.0 L632.5,427.8 L618.0,440.9 L603.5,449.6 L591.9,452.5 L581.7,448.0 L574.5,435.0 L573.0,416.2 L571.6,398.8 L565.0,388.0Z" fill="#f7d6e5"/>
<path d="M555.0,382.5 L566.0,379.0 L576.0,374.5 L581.0,377.0 L579.0,385.0 L574.0,392.0 L571.6,398.0 L566.0,389.0Z" fill="#ef6b8f"/>
<path d="M636.5,381.3 L642.0,381.0 L648.0,378.5 L653.5,381.0 L654.5,390.0 L652.0,398.0 L647.0,406.0 L642.0,398.0 L636.5,389.0Z" fill="#ef6b8f"/>
<path d="M577.0,371.5 C577.5,369.8 582.6,366.0 585.0,364.5 C587.4,363.0 591.8,360.9 595.0,360.0 C598.2,359.1 605.4,357.9 609.0,358.0 C612.6,358.1 618.9,359.4 622.0,360.5 C625.1,361.6 629.7,364.3 632.0,366.0 C634.3,367.7 637.5,370.9 639.0,373.0 C640.5,375.1 643.4,380.9 643.0,382.0 C642.6,383.1 638.0,381.8 636.0,381.0 C634.0,380.2 630.9,377.3 628.0,376.0 C625.1,374.7 617.6,372.2 614.0,371.5 C610.4,370.8 604.2,370.8 601.0,371.0 C597.8,371.2 592.7,372.2 590.0,373.0 C587.3,373.8 582.7,377.2 581.0,377.0 C579.3,376.8 576.5,373.2 577.0,371.5Z" fill="#ae8fd2"/>
<path d="M579.0,370.5 C579.4,369.6 583.9,366.6 586.0,365.5 C588.1,364.4 594.6,362.2 595.0,362.5 C595.4,362.8 590.6,366.2 589.0,367.5 C587.4,368.8 584.3,371.6 583.0,372.0 C581.7,372.4 578.6,371.4 579.0,370.5Z" fill="#d0bdea"/>
<path d="M630.5,368 C632,374 633,380 633,386 M633.5,367 C635,373 636,379 636,385" fill="none" stroke="#e6c56e" stroke-width="1.2"/>
<path d="M505.0,366.0 C507.3,366.4 513.7,367.4 518.7,368.7 C523.7,370.0 530.0,372.2 535.0,374.0 C540.0,375.8 544.8,378.8 549.0,379.5 C553.2,380.2 556.4,379.3 560.0,378.0 C563.6,376.7 567.3,374.2 570.9,371.5 C574.5,368.8 578.1,364.4 581.7,361.7 C585.3,359.0 588.6,356.7 592.6,355.2 C596.6,353.7 601.5,352.9 605.7,352.5 C609.9,352.1 614.0,352.2 617.6,353.0 C621.2,353.8 624.3,355.6 627.4,357.4 C630.5,359.2 633.1,361.6 636.0,364.0 C638.9,366.4 642.2,369.3 644.8,371.5 C647.3,373.7 650.2,376.1 651.3,377.0" fill="none" stroke="#3e362d" stroke-width="1.5"/>
<path d="M572.5,393.0 C573.5,388.9 576.9,387.9 579.6,385.6 C582.3,383.3 588.7,377.5 592.6,375.9 C596.5,374.3 604.9,373.6 609.0,373.7 C613.1,373.8 619.7,375.2 623.0,377.0 C626.3,378.8 632.3,383.3 634.0,387.0 C635.7,390.7 636.0,400.3 635.4,404.6 C634.8,408.9 631.5,415.7 629.6,419.0 C627.7,422.3 623.0,426.5 620.9,429.3 C618.8,432.1 616.3,437.2 614.0,440.0 C611.7,442.8 606.9,448.2 604.0,450.0 C601.1,451.8 595.1,453.6 592.0,453.5 C588.9,453.4 583.0,451.3 580.5,449.0 C578.0,446.7 574.6,440.4 573.5,436.0 C572.4,431.6 572.1,421.9 572.0,416.2 C571.9,410.5 571.5,397.1 572.5,393.0Z" fill="#eae2bf"/>
<path d="M576.0,391.0 C576.6,390.1 576.8,388.1 579.6,385.6 C582.4,383.1 587.7,377.9 592.6,375.9 C597.5,373.9 603.9,373.5 609.0,373.7 C614.1,373.9 618.8,374.8 623.0,377.0 C627.2,379.2 631.9,382.4 634.0,387.0 C636.1,391.6 636.1,399.3 635.4,404.6 C634.7,409.9 632.0,414.9 629.6,419.0 C627.2,423.1 623.6,426.1 620.9,429.3 C618.2,432.5 614.8,436.6 613.6,438.0" fill="none" stroke="#433a30" stroke-width="1.4"/>
<path d="M583.5,407.0 C583.7,400.0 584.9,395.2 587.0,391.0 C589.1,386.8 592.7,383.2 596.2,381.5 C599.7,379.8 604.2,379.9 608.0,380.5 C611.8,381.1 615.9,381.9 619.0,385.0 C622.1,388.1 625.9,394.2 626.7,399.0 C627.5,403.8 626.1,409.2 624.0,414.0 C621.9,418.8 617.5,424.2 614.0,428.0 C610.5,431.8 606.5,434.8 603.0,437.0 C599.5,439.2 596.1,442.2 593.3,441.5 C590.5,440.8 587.6,438.8 586.0,433.0 C584.4,427.2 583.3,414.0 583.5,407.0Z" fill="url(#sp)"/>
<path d="M553.0,381.0 C555.0,382.2 561.9,385.0 565.0,388.0 C568.1,391.0 570.3,394.1 571.6,398.8 C572.9,403.5 572.5,410.2 573.0,416.2 C573.5,422.2 573.0,429.7 574.5,435.0 C576.0,440.3 578.8,445.1 581.7,448.0 C584.6,450.9 588.3,452.2 591.9,452.5 C595.5,452.8 599.1,451.5 603.5,449.6 C607.9,447.7 613.2,444.5 618.0,440.9 C622.8,437.3 627.7,433.1 632.5,427.8 C637.3,422.5 643.4,414.8 647.0,409.0 C650.6,403.2 652.9,397.8 654.2,393.0 C655.5,388.2 655.4,382.8 655.0,380.0 C654.6,377.2 652.5,376.7 652.0,376.0" fill="none" stroke="#3aa3d9" stroke-width="2.3"/>
<path d="M682.8,366.4 C685.9,366.4 690.5,366.8 692.3,370.2 C694.1,373.6 693.6,381.2 693.6,386.7 C693.6,392.2 693.2,398.6 692.3,403.3 C691.3,408.0 690.3,414.7 687.9,414.7 C685.5,414.7 680.2,409.0 677.7,403.3 C675.2,397.6 673.2,385.9 672.6,380.4 C672.0,374.9 672.2,372.5 673.9,370.2 C675.6,367.9 679.7,366.4 682.8,366.4Z" fill="#786c5c"/>
</g>
<path d="M681.5,390.6 L687.2,414" stroke="#ece6d6" stroke-width="2.4" fill="none"/>
<g stroke="#1f3b4d" stroke-width="1.1" fill="none"><path d="M619.3,251.6 L590.6,350.0"/><path d="M639.8,270.4 L612.6,363.5"/><path d="M660.6,289.6 L635.9,371.5"/><path d="M501.6,461.8 L585.0,410.0"/><path d="M694.0,458.8 L681.9,389.5"/></g>
<g fill="#1f3b4d"><circle cx="619.3" cy="251.6" r="2.1"/><circle cx="639.8" cy="270.4" r="2.1"/><circle cx="660.6" cy="289.6" r="2.1"/><circle cx="501.6" cy="461.8" r="2.1"/><circle cx="694.0" cy="458.8" r="2.1"/></g>
<text x="377" y="81" font-size="34.5" textLength="247" lengthAdjust="spacingAndGlyphs" fill="#174a6d" stroke="#174a6d" stroke-width="1.3">TMJ DISORDER</text>
<text x="392.6" y="244.2" font-size="11.3" textLength="78.0" lengthAdjust="spacingAndGlyphs" fill="#1a3c54" stroke="#1a3c54" stroke-width="0.4">Temporal bone</text>
<text x="324.7" y="359.5" font-size="11.3" textLength="50.7" lengthAdjust="spacingAndGlyphs" fill="#1a3c54" stroke="#1a3c54" stroke-width="0.4">Mandible</text>
<text x="624.5" y="255.2" font-size="11.3" textLength="77.3" lengthAdjust="spacingAndGlyphs" fill="#1a3c54" stroke="#1a3c54" stroke-width="0.4">Temporal bone</text>
<text x="644.0" y="274.0" font-size="11.3" textLength="22.7" lengthAdjust="spacingAndGlyphs" fill="#1a3c54" stroke="#1a3c54" stroke-width="0.4">Disk</text>
<text x="664.0" y="292.9" font-size="11.3" textLength="35.9" lengthAdjust="spacingAndGlyphs" fill="#1a3c54" stroke="#1a3c54" stroke-width="0.4">Nerves</text>
<text x="454.6" y="465.2" font-size="11.3" textLength="41.4" lengthAdjust="spacingAndGlyphs" fill="#1a3c54" stroke="#1a3c54" stroke-width="0.4">Condyle</text>
<text x="670.2" y="472.2" font-size="11.3" textLength="48.4" lengthAdjust="spacingAndGlyphs" fill="#1a3c54" stroke="#1a3c54" stroke-width="0.4">Ear canal</text>
<text x="547.3" y="492.4" font-size="11.3" textLength="115.9" lengthAdjust="spacingAndGlyphs" fill="#1a3c54" stroke="#1a3c54" stroke-width="0.4">Tempolar-Mandibular</text>
<text x="592.6" y="504.4" font-size="11.3" textLength="24.7" lengthAdjust="spacingAndGlyphs" fill="#1a3c54" stroke="#1a3c54" stroke-width="0.4">joint</text>
<path d="M410.9,304.4 C411.0,306.0 410.8,309.3 411.6,313.8 C412.5,318.3 414.6,326.7 416.0,331.2 C417.4,335.7 417.5,336.4 420.0,340.9 C422.5,345.4 426.4,353.1 430.9,358.3 C435.4,363.6 441.8,368.6 447.2,372.4 C452.6,376.2 458.0,378.6 463.5,381.0 C469.0,383.4 474.4,384.6 480.0,386.5 C485.6,388.4 494.0,391.4 496.8,392.4 L493.8,400.4 L521.3,389.4 L498.3,371 L499.3,379.0 C496.1,378.4 486.0,377.2 480.0,375.7 C474.0,374.2 468.8,372.4 463.5,370.2 C458.2,368.0 453.2,365.7 448.3,362.6 C443.4,359.5 438.8,356.2 434.1,351.7 C429.4,347.2 423.5,341.9 420.0,335.4 C416.5,328.8 414.2,316.2 413.0,312.4Z" fill="#184a6b"/>
</svg>
</body></html>
